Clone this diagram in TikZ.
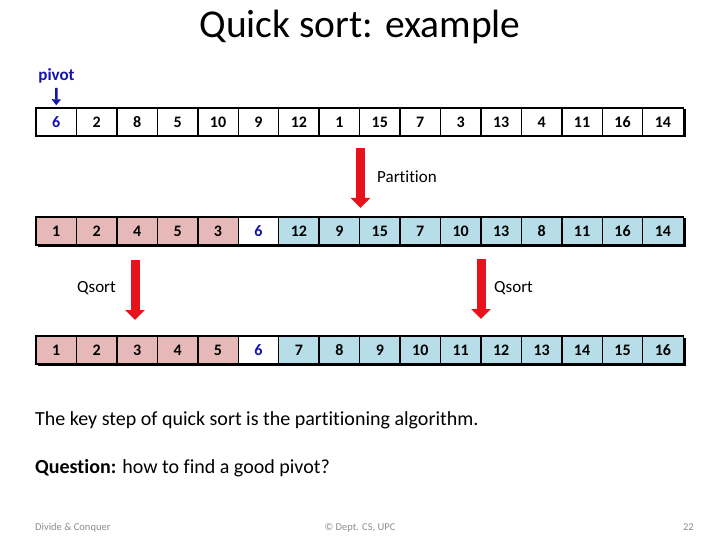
\documentclass[tikz,border=0pt]{standalone}
\usepackage{fontspec}
\setmainfont{Carlito}[Ligatures=NoCommon]
\usetikzlibrary{arrows.meta}
\definecolor{pinkc}{RGB}{230,184,183}
\definecolor{bluec}{RGB}{183,221,232}
\definecolor{pivblue}{RGB}{20,20,170}
\definecolor{redarr}{RGB}{232,18,28}
\definecolor{footc}{RGB}{140,140,140}
\tikzset{
  cell/.style={draw=black, line width=1.4pt, minimum width=40.45pt, minimum height=28pt,
    inner sep=0pt, text height=10.5pt, text depth=0pt, font=\fontsize{16}{16}\selectfont\bfseries},
  pinkcell/.style={cell, fill=pinkc},
  bluecell/.style={cell, fill=bluec},
  whitecell/.style={cell, fill=white},
  pivcell/.style={cell, fill=white, text=pivblue},
  shadow/.style={fill=black},
  bigarrow/.style={draw=redarr, line width=9pt, -{Triangle[width=19pt,length=10pt]}},
  pivarrow/.style={draw=pivblue, line width=2.5pt, -{Triangle[width=9pt,length=6pt]}},
  lbl/.style={anchor=base west, inner sep=0pt, font=\fontsize{17}{17}\selectfont},
  bodytxt/.style={anchor=base west, inner sep=0pt, font=\fontsize{20}{20}\selectfont},
  foottxt/.style={inner sep=0pt, text=footc, font=\fontsize{10.5}{10.5}\selectfont}
}
\begin{document}
\begin{tikzpicture}[x=1pt,y=-1pt]
\useasboundingbox (0,0) rectangle (720,540);

% title
\node[anchor=base, inner sep=0pt, font=\fontsize{39.5}{39.5}\selectfont] (title) at (360,38) {Quick sort: example};

% shadows
\fill[shadow] (37.5,109.5) rectangle (685.5,137.5);
\fill[shadow] (37.5,218.5) rectangle (685.5,246.5);
\fill[shadow] (37.5,337.5) rectangle (685.5,365.5);

% row 1
\foreach \v/\s [count=\i] in {6/pivcell,2/whitecell,8/whitecell,5/whitecell,10/whitecell,9/whitecell,12/whitecell,1/whitecell,15/whitecell,7/whitecell,3/whitecell,13/whitecell,4/whitecell,11/whitecell,16/whitecell,14/whitecell}
  \node[\s] (r1c\i) at ({36+40.45*(\i-0.5)},122) {\v};

% row 2
\foreach \v/\s [count=\i] in {1/pinkcell,2/pinkcell,4/pinkcell,5/pinkcell,3/pinkcell,6/pivcell,12/bluecell,9/bluecell,15/bluecell,7/bluecell,10/bluecell,13/bluecell,8/bluecell,11/bluecell,16/bluecell,14/bluecell}
  \node[\s] (r2c\i) at ({36+40.45*(\i-0.5)},231) {\v};

% row 3
\foreach \v/\s [count=\i] in {1/pinkcell,2/pinkcell,3/pinkcell,4/pinkcell,5/pinkcell,6/pivcell,7/bluecell,8/bluecell,9/bluecell,10/bluecell,11/bluecell,12/bluecell,13/bluecell,14/bluecell,15/bluecell,16/bluecell}
  \node[\s] (r3c\i) at ({36+40.45*(\i-0.5)},350) {\v};

% pivot label and arrow
\node[anchor=base, inner sep=0pt, text=pivblue, font=\fontsize{17}{17}\selectfont\bfseries] (pivlbl) at (56.5,81) {pivot};
\draw[pivarrow] ([yshift=-4pt]pivlbl.south) -- ([yshift=2pt]r1c1.north);

% partition arrow
\coordinate (pa1) at (360.5,148);
\coordinate (pa2) at (360.5,208);
\draw[bigarrow] (pa1) -- (pa2);
\node[lbl] (plbl) at (377,183) {Partition};

% qsort arrows
\coordinate (qa1) at (135,260);
\coordinate (qa2) at (135,320);
\draw[bigarrow] (qa1) -- (qa2);
\node[lbl] (qlbl1) at (77,292) {Qsort};

\coordinate (qb1) at (481,259);
\coordinate (qb2) at (481,319);
\draw[bigarrow] (qb1) -- (qb2);
\node[lbl] (qlbl2) at (494,292) {Qsort};

% body text
\node[bodytxt] (t1) at (35,425) {The key step of quick sort is the partitioning algorithm.};
\node[bodytxt] (t2) at (35,473) {\textbf{Question:} how to find a good pivot?};

% footer
\node[foottxt, anchor=base west] (f1) at (35,530) {Divide \& Conquer};
\node[foottxt, anchor=base] (f2) at (360,530) {© Dept. CS, UPC};
\node[foottxt, anchor=base east] (f3) at (694,530) {22};
\end{tikzpicture}
\end{document}
